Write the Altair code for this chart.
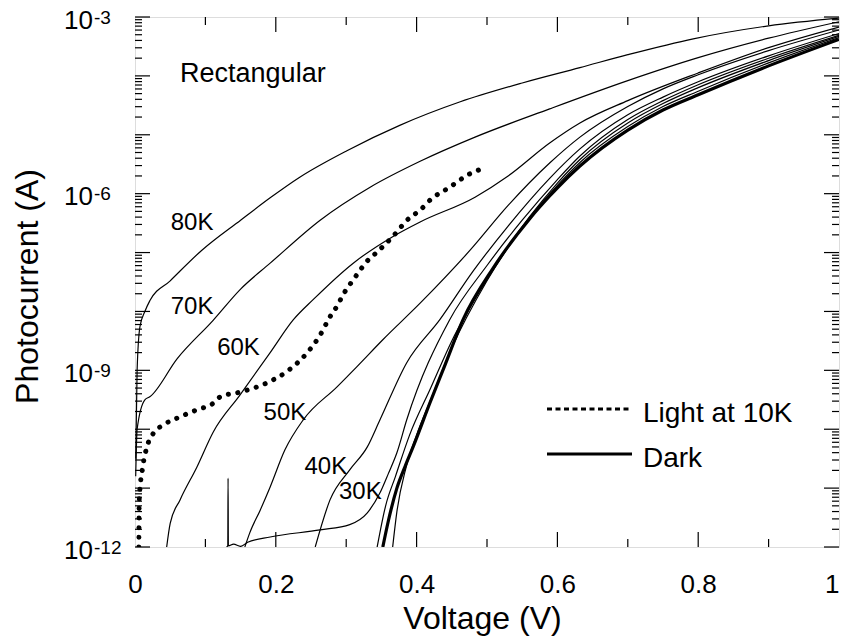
import altair as alt
import pandas as pd

# ---------------- data (voltage in V, current as log10(A)) ----------------
v80 = [0.001, 0.003, 0.007, 0.014, 0.021, 0.05, 0.095, 0.15, 0.192, 0.234, 0.301, 0.376, 0.462, 0.55, 0.632, 0.70, 0.793, 0.90, 1.0]
l80 = [-10.5, -9.0, -8.26, -8.0, -7.82, -7.48, -6.96, -6.45, -6.07, -5.72, -5.27, -4.84, -4.44, -4.12, -3.86, -3.64, -3.37, -3.15, -3.02]

v70 = [0.001, 0.003, 0.014, 0.021, 0.06, 0.111, 0.15, 0.192, 0.263, 0.334, 0.405, 0.483, 0.589, 0.70, 0.80, 0.90, 1.0]
l70 = [-10.8, -10.0, -9.5, -9.45, -8.8, -8.15, -7.62, -7.18, -6.45, -5.89, -5.45, -5.04, -4.56, -4.08, -3.69, -3.36, -3.08]

v60 = [0.045, 0.05, 0.064, 0.088, 0.111, 0.149, 0.192, 0.225, 0.253, 0.31, 0.366, 0.405, 0.483, 0.53, 0.589, 0.632, 0.70, 0.80, 0.90, 1.0]
l60 = [-12.0, -11.6, -11.2, -10.64, -10.05, -9.42, -8.70, -8.14, -7.80, -7.18, -6.73, -6.48, -6.06, -5.70, -5.14, -4.80, -4.42, -3.95, -3.52, -3.17]

v50 = [0.156, 0.163, 0.178, 0.192, 0.213, 0.239, 0.287, 0.315, 0.352, 0.405, 0.476, 0.53, 0.589, 0.632, 0.70, 0.75, 0.80, 0.90, 1.0]
l50 = [-12.0, -11.76, -11.37, -10.98, -10.35, -9.84, -9.28, -8.94, -8.48, -7.86, -6.96, -6.20, -5.48, -5.04, -4.52, -4.22, -3.98, -3.57, -3.22]

v40 = [0.256, 0.277, 0.305, 0.33, 0.348, 0.386, 0.433, 0.48, 0.53, 0.589, 0.632, 0.70, 0.75, 0.80, 0.90, 1.0]
l40 = [-12.0, -11.2, -10.69, -10.3, -9.84, -8.87, -8.14, -7.32, -6.55, -5.74, -5.24, -4.66, -4.36, -4.10, -3.66, -3.28]

v30 = [0.130, 0.1318, 0.1322, 0.1326, 0.14, 0.15, 0.16, 0.192, 0.263, 0.305, 0.33, 0.348, 0.36, 0.372, 0.386, 0.447, 0.50, 0.55, 0.60, 0.632, 0.70, 0.75, 0.80, 0.90, 1.0]
l30 = [-12.0, -11.98, -10.83, -11.98, -11.95, -11.99, -11.92, -11.83, -11.71, -11.62, -11.42, -11.08, -10.75, -10.40, -9.84, -8.14, -7.22, -6.45, -5.76, -5.36, -4.74, -4.42, -4.15, -3.70, -3.31]

v20 = [0.344, 0.356, 0.37, 0.39, 0.42, 0.45, 0.50, 0.56, 0.60, 0.632, 0.70, 0.75, 0.80, 0.90, 1.0]
l20 = [-12.0, -11.3, -10.8, -10.1, -9.3, -8.5, -7.45, -6.40, -5.82, -5.42, -4.80, -4.47, -4.20, -3.74, -3.33]

v10 = [0.366, 0.372, 0.385, 0.40, 0.42, 0.45, 0.50, 0.56, 0.60, 0.632, 0.70, 0.75, 0.80, 0.90, 1.0]
l10 = [-12.0, -11.4, -10.65, -10.1, -9.5, -8.62, -7.48, -6.42, -5.86, -5.47, -4.86, -4.52, -4.26, -3.78, -3.35]

v_dark = [0.352, 0.36, 0.372, 0.384, 0.395, 0.419, 0.44, 0.466, 0.509, 0.561, 0.589, 0.60, 0.632, 0.70, 0.75, 0.80, 0.90, 1.0]
l_dark = [-12.0, -11.55, -11.0, -10.62, -10.3, -9.55, -8.92, -8.14, -7.26, -6.42, -6.04, -5.90, -5.53, -4.92, -4.58, -4.32, -3.83, -3.38]

v_light = [0.0055, 0.006, 0.011, 0.017, 0.026, 0.04, 0.064, 0.088, 0.111, 0.121, 0.149, 0.188, 0.219, 0.244, 0.263, 0.277, 0.288, 0.294, 0.312, 0.331, 0.344, 0.366, 0.39, 0.405, 0.419, 0.447, 0.473, 0.50]
l_light = [-12.0, -11.2, -10.64, -10.3, -10.07, -9.93, -9.79, -9.67, -9.56, -9.45, -9.37, -9.21, -8.99, -8.71, -8.40, -8.09, -7.89, -7.75, -7.43, -7.13, -6.99, -6.73, -6.41, -6.28, -6.11, -5.89, -5.68, -5.55]

# curve labels
lab_text = ["80K", "70K", "60K", "50K", "40K", "30K"]
lab_v = [0.081, 0.081, 0.147, 0.213, 0.271, 0.32]
lab_l = [-6.50, -7.92, -8.62, -9.72, -10.64, -11.06]

# axis tick values / labels
x_labels = [0, 0.2, 0.4, 0.6, 0.8, 1.0]
x_major = [0.2, 0.4, 0.6, 0.8]
x_minor = [0.1, 0.3, 0.5, 0.7, 0.9]
y_label_vals = [1e-3, 1e-6, 1e-9, 1e-12]
y_label_exp = ["-3", "-6", "-9", "-12"]
y_decades = [-12, -11, -10, -9, -8, -7, -6, -5, -4, -3]
y_minor_mult = [2, 3, 4, 5, 6, 7, 8, 9]

# ---------------- tables ----------------
def curve(name, xs, ls):
    return [{"series": name, "i": k, "v": x, "cur": 10 ** l} for k, (x, l) in enumerate(zip(xs, ls))]

thin_rows = []
for nm, xs_, ls_ in [("80K", v80, l80), ("70K", v70, l70), ("60K", v60, l60), ("50K", v50, l50),
                     ("40K", v40, l40), ("30K", v30, l30), ("20K", v20, l20), ("10K", v10, l10)]:
    thin_rows += curve(nm, xs_, ls_)
thin_df = pd.DataFrame(thin_rows)
dark_df = pd.DataFrame(curve("Dark", v_dark, l_dark))
light_df = pd.DataFrame(curve("Light", v_light, l_light))
lab_df = pd.DataFrame({"t": lab_text, "v": lab_v, "cur": [10 ** l for l in lab_l]})

W, H = 704, 530
FONT = "Liberation Sans"

xs = alt.Scale(domain=[0, 1], nice=False, zero=False)
ys = alt.Scale(type="log", domain=[1e-12, 1e-3], nice=False)

x_axis = alt.Axis(values=x_labels, labelExpr="format(datum.value, '.1~f')", ticks=False, tickSize=0,
                  domain=False, grid=False, labelFontSize=26, labelFont=FONT, labelColor="black",
                  labelBaseline="alphabetic", labelPadding=45, labelFlush=False,
                  labelAlign={"expr": "datum.value == 1 ? 'right' : 'center'"},
                  title="Voltage (V)", titleFont=FONT, titleFontSize=32, titleFontWeight="normal",
                  titleColor="black", titleBaseline="alphabetic", titleY=81, titleX=347)
y_axis = alt.Axis(labels=False, ticks=False, domain=False, grid=False,
                  title="Photocurrent (A)", titleFont=FONT, titleFontSize=32, titleFontWeight="normal",
                  titleColor="black", titleBaseline="alphabetic", titleAngle=-90, titleX=-98, titleY=269,
                  titleAlign="center")


def X(f):
    return alt.X(f, scale=xs, axis=x_axis, title="Voltage (V)")


def Y(f):
    return alt.Y(f, scale=ys, axis=y_axis, title="Photocurrent (A)")


thin = alt.Chart(thin_df).mark_line(color="black", strokeWidth=1.2, clip=True, interpolate="monotone").encode(
    x=X("v:Q"), y=Y("cur:Q"), detail="series:N", order="i:Q")
dark = alt.Chart(dark_df).mark_line(color="black", strokeWidth=3.2, clip=True, interpolate="monotone").encode(
    x=X("v:Q"), y=Y("cur:Q"), order="i:Q")
light = alt.Chart(light_df).mark_line(color="black", strokeWidth=5, strokeDash=[0.1, 9.5],
                                      strokeCap="round", clip=True, interpolate="monotone").encode(
    x=X("v:Q"), y=Y("cur:Q"), order="i:Q")

labels = alt.Chart(lab_df).mark_text(font=FONT, fontSize=24, color="black", align="center",
                                     baseline="middle").encode(
    x=X("v:Q"), y=Y("cur:Q"), text="t:N")

title_txt = alt.Chart(pd.DataFrame({"t": ["Rectangular"], "v": [0.064], "cur": [10 ** -3.97]})).mark_text(
    font=FONT, fontSize=27, color="black", align="left", baseline="middle").encode(
    x=X("v:Q"), y=Y("cur:Q"), text="t:N")

# ticks (inward) on all four sides
xmaj_df = pd.DataFrame({"v": x_major})
xmin_df = pd.DataFrame({"v": x_minor})
ymaj_df = pd.DataFrame({"cur": [10.0 ** d for d in y_decades]})
ymin_df = pd.DataFrame({"cur": [m * 10.0 ** d for d in y_decades[:-1] for m in y_minor_mult]})


def xt(df, y0, y1):
    return alt.Chart(df).mark_rule(color="black", strokeWidth=1.2).encode(
        x=X("v:Q"), y=alt.value(y0), y2=alt.value(y1))


def yt(df, x0, x1):
    return alt.Chart(df).mark_rule(color="black", strokeWidth=1.2).encode(
        y=Y("cur:Q"), x=alt.value(x0), x2=alt.value(x1))


ticks = [xt(xmaj_df, H, H - 15), xt(xmin_df, H, H - 8), xt(xmaj_df, 0, 15), xt(xmin_df, 0, 8),
         yt(ymaj_df, 0, 15), yt(ymin_df, 0, 7), yt(ymaj_df, W, W - 15), yt(ymin_df, W, W - 7)]

# y tick labels as 10 with superscript exponent
ylab_df = pd.DataFrame({"cur": y_label_vals, "base": ["10"] * 4, "e": y_label_exp})
ylab10 = alt.Chart(ylab_df).mark_text(font=FONT, fontSize=26, color="black", align="right",
                                      baseline="alphabetic", dy=11.5).encode(
    y=Y("cur:Q"), x=alt.value(-42), text="base:N")
ylabE = alt.Chart(ylab_df).mark_text(font=FONT, fontSize=19, color="black", align="left",
                                     baseline="alphabetic", dy=6.5).encode(
    y=Y("cur:Q"), x=alt.value(-41), text="e:N")

# legend
leg_dot = alt.Chart(pd.DataFrame({"a": [0]})).mark_rule(color="black", strokeWidth=3, strokeDash=[5, 3.5]).encode(
    x=alt.value(412), x2=alt.value(497), y=alt.value(392))
leg_solid = alt.Chart(pd.DataFrame({"a": [0]})).mark_rule(color="black", strokeWidth=3).encode(
    x=alt.value(412), x2=alt.value(497), y=alt.value(437))
leg_txt = alt.Chart(pd.DataFrame({"t": ["Light at 10K", "Dark"], "yy": [405, 450]})).mark_text(
    font=FONT, fontSize=28, color="black", align="left", baseline="alphabetic").encode(
    x=alt.value(508), y=alt.Y("yy:Q", scale=None, axis=None), text="t:N")

chart = alt.layer(thin, dark, light, labels, title_txt, *ticks, ylab10, ylabE,
                  leg_dot, leg_solid, leg_txt).properties(
    width=W, height=H,
    padding={"left": 135, "top": 17, "right": 4, "bottom": 93},
    autosize=alt.AutoSizeParams(type="none"),
).configure_view(stroke="black", strokeWidth=1.5).configure(background="white")

chart.save("out.html", embed_options={"renderer": "svg", "actions": False})
